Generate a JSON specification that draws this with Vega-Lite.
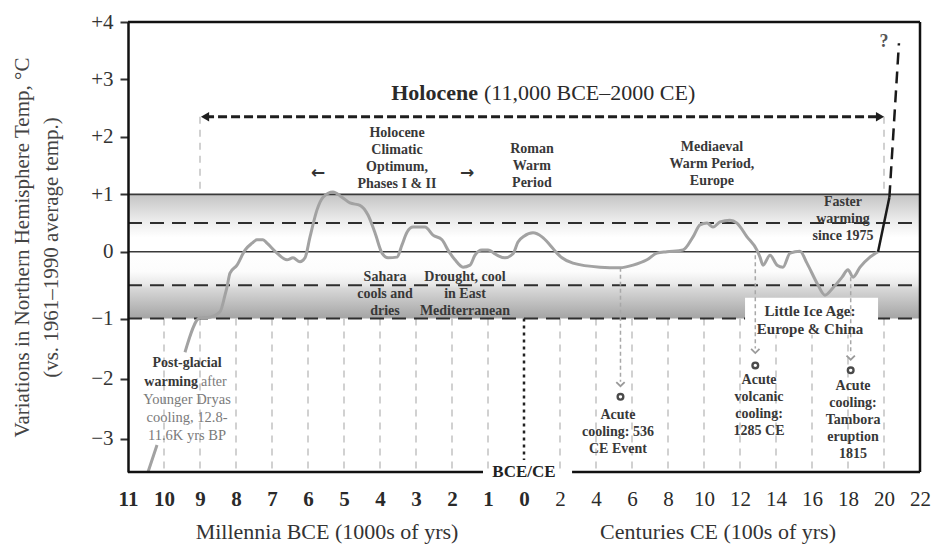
{
 "$schema": "https://vega.github.io/schema/vega-lite/v6.json",
 "width": 792,
 "height": 450,
 "autosize": {"type": "none"},
 "padding": {"left": 128, "top": 22, "right": 13, "bottom": 81},
 "background": "#ffffff",
 "config": {"view": {"stroke": null}, "font": "Liberation Serif"},
 "datasets": {
  "bands": [
   {"band": "upper", "x": -11000, "x2": 2200, "y": 1, "y2": 0},
   {"band": "lower", "x": -11000, "x2": 2200, "y": 0, "y2": -1}
  ],
  "gridLow": [
   {"x": -10000, "y": -1, "y2": -3.55}, {"x": -9000, "y": -1, "y2": -3.55}, {"x": -8000, "y": -1, "y2": -3.55},
   {"x": -7000, "y": -1, "y2": -3.55}, {"x": -6000, "y": -1, "y2": -3.55}, {"x": -5000, "y": -1, "y2": -3.55},
   {"x": -4000, "y": -1, "y2": -3.55}, {"x": -3000, "y": -1, "y2": -3.55}, {"x": -2000, "y": -1, "y2": -3.55},
   {"x": -1000, "y": -1, "y2": -3.55}, {"x": 200, "y": -1, "y2": -3.55}, {"x": 400, "y": -1, "y2": -3.55},
   {"x": 600, "y": -1, "y2": -3.55}, {"x": 800, "y": -1, "y2": -3.55}, {"x": 1000, "y": -1, "y2": -3.55},
   {"x": 1200, "y": -1, "y2": -3.55}, {"x": 1400, "y": -1, "y2": -3.55}, {"x": 1600, "y": -1, "y2": -3.55},
   {"x": 1800, "y": -1, "y2": -3.55}, {"x": 2000, "y": -1, "y2": -3.55},
   {"x": -9000, "y": 2.35, "y2": 1}, {"x": 2000, "y": 2.35, "y2": 1}
  ],
  "hSolid": [
   {"x": -11000, "x2": 2200, "y": 1},
   {"x": -11000, "x2": 2200, "y": 0}
  ],
  "hDashed": [
   {"x": -11000, "x2": 2200, "y": 0.5},
   {"x": -11000, "x2": 2200, "y": -0.5},
   {"x": -11000, "x2": 2200, "y": -1}
  ],
  "box": [{"x": 1228, "x2": 1967, "y": -0.69, "y2": -1.27}],
  "divider": [{"x": 0, "y": -1, "y2": -3.35}],
  "connectors": [
   {"x": 536, "y": -0.24, "y2": -2.05},
   {"x": 1285, "y": -0.05, "y2": -1.5},
   {"x": 1815, "y": -0.38, "y2": -1.6}
  ],
  "curve": [
   {"seg": "a", "x": -10444, "y": -3.55}, {"seg": "a", "x": -10194, "y": -3.1},
   {"seg": "b", "x": -9417, "y": -1.56}, {"seg": "b", "x": -9000, "y": -0.99},
   {"seg": "b", "x": -8722, "y": -0.98}, {"seg": "b", "x": -8444, "y": -0.9},
   {"seg": "b", "x": -8306, "y": -0.65}, {"seg": "b", "x": -8250, "y": -0.53},
   {"seg": "b", "x": -8167, "y": -0.32}, {"seg": "b", "x": -7972, "y": -0.2},
   {"seg": "b", "x": -7750, "y": 0.03}, {"seg": "b", "x": -7556, "y": 0.15},
   {"seg": "b", "x": -7417, "y": 0.21}, {"seg": "b", "x": -7250, "y": 0.21},
   {"seg": "b", "x": -7139, "y": 0.15}, {"seg": "b", "x": -6861, "y": -0.02},
   {"seg": "b", "x": -6583, "y": -0.12}, {"seg": "b", "x": -6417, "y": -0.09},
   {"seg": "b", "x": -6222, "y": -0.15}, {"seg": "b", "x": -6083, "y": -0.09},
   {"seg": "b", "x": -5944, "y": 0.26}, {"seg": "b", "x": -5750, "y": 0.73},
   {"seg": "b", "x": -5583, "y": 0.95}, {"seg": "b", "x": -5306, "y": 1.04},
   {"seg": "b", "x": -5056, "y": 0.95}, {"seg": "b", "x": -4833, "y": 0.85},
   {"seg": "b", "x": -4556, "y": 0.81}, {"seg": "b", "x": -4333, "y": 0.64},
   {"seg": "b", "x": -4139, "y": 0.33}, {"seg": "b", "x": -3944, "y": -0.02},
   {"seg": "b", "x": -3778, "y": -0.09}, {"seg": "b", "x": -3528, "y": -0.08},
   {"seg": "b", "x": -3389, "y": 0.12}, {"seg": "b", "x": -3250, "y": 0.34},
   {"seg": "b", "x": -3083, "y": 0.43}, {"seg": "b", "x": -2750, "y": 0.43},
   {"seg": "b", "x": -2528, "y": 0.29}, {"seg": "b", "x": -2278, "y": 0.21},
   {"seg": "b", "x": -2111, "y": 0.03}, {"seg": "b", "x": -1917, "y": -0.12},
   {"seg": "b", "x": -1694, "y": -0.23}, {"seg": "b", "x": -1500, "y": -0.2},
   {"seg": "b", "x": -1361, "y": -0.05}, {"seg": "b", "x": -1167, "y": 0.03},
   {"seg": "b", "x": -1000, "y": 0.03}, {"seg": "b", "x": -750, "y": -0.05},
   {"seg": "b", "x": -528, "y": -0.09}, {"seg": "b", "x": -306, "y": -0.03},
   {"seg": "b", "x": -167, "y": 0.17}, {"seg": "b", "x": 0, "y": 0.27},
   {"seg": "b", "x": 50, "y": 0.33}, {"seg": "b", "x": 100, "y": 0.26},
   {"seg": "b", "x": 144, "y": 0.12}, {"seg": "b", "x": 183, "y": -0.02},
   {"seg": "b", "x": 211, "y": -0.09}, {"seg": "b", "x": 272, "y": -0.17},
   {"seg": "b", "x": 422, "y": -0.23}, {"seg": "b", "x": 533, "y": -0.24},
   {"seg": "b", "x": 606, "y": -0.2}, {"seg": "b", "x": 683, "y": -0.12},
   {"seg": "b", "x": 739, "y": -0.02}, {"seg": "b", "x": 794, "y": 0.0},
   {"seg": "b", "x": 883, "y": 0.03}, {"seg": "b", "x": 939, "y": 0.26},
   {"seg": "b", "x": 978, "y": 0.47}, {"seg": "b", "x": 1017, "y": 0.5},
   {"seg": "b", "x": 1050, "y": 0.43}, {"seg": "b", "x": 1089, "y": 0.52},
   {"seg": "b", "x": 1144, "y": 0.55}, {"seg": "b", "x": 1183, "y": 0.5},
   {"seg": "b", "x": 1239, "y": 0.26}, {"seg": "b", "x": 1294, "y": 0.03},
   {"seg": "b", "x": 1311, "y": -0.08}, {"seg": "b", "x": 1328, "y": -0.2},
   {"seg": "b", "x": 1367, "y": -0.05}, {"seg": "b", "x": 1406, "y": -0.2},
   {"seg": "b", "x": 1439, "y": -0.23}, {"seg": "b", "x": 1478, "y": -0.02},
   {"seg": "b", "x": 1533, "y": 0.01}, {"seg": "b", "x": 1572, "y": -0.17},
   {"seg": "b", "x": 1628, "y": -0.47}, {"seg": "b", "x": 1672, "y": -0.65},
   {"seg": "b", "x": 1717, "y": -0.54}, {"seg": "b", "x": 1767, "y": -0.38},
   {"seg": "b", "x": 1800, "y": -0.27}, {"seg": "b", "x": 1828, "y": -0.38},
   {"seg": "b", "x": 1867, "y": -0.23}, {"seg": "b", "x": 1922, "y": -0.08},
   {"seg": "b", "x": 1967, "y": 0.0}
  ],
  "recent": [{"x": 1967, "y": 0.0}, {"x": 2030, "y": 0.95}],
  "projection": [{"x": 2030, "y": 0.95}, {"x": 2083, "y": 3.63}],
  "holoLine": [{"x": -8860, "x2": 1978, "y": 2.35}],
  "holoHeads": [{"dir": "left", "x": -8860, "y": 2.35}, {"dir": "right", "x": 1978, "y": 2.35}],
  "frameH": [
   {"x": -11000, "x2": 2200, "y": 4},
   {"x": -11000, "x2": -1139, "y": -3.55},
   {"x": 267, "x2": 2200, "y": -3.55}
  ],
  "frameV": [{"x": 2200, "y": -3.55, "y2": 4}],
  "chevrons": [{"x": 536, "y": -2.09}, {"x": 1285, "y": -1.54}, {"x": 1815, "y": -1.65}],
  "circles": [{"x": 536, "y": -2.3}, {"x": 1285, "y": -1.78}, {"x": 1815, "y": -1.86}],
  "notes": [
   {"x": -3528, "y": 2.19, "t": "Holocene\nClimatic\nOptimum,\nPhases I & II"},
   {"x": 44, "y": 1.91, "t": "Roman\nWarm\nPeriod"},
   {"x": 1044, "y": 1.95, "t": "Mediaeval\nWarm Period,\nEurope"},
   {"x": 1772, "y": 0.99, "t": "Faster\nwarming\nsince 1975"},
   {"x": -3861, "y": -0.27, "t": "Sahara\ncools and\ndries"},
   {"x": -1639, "y": -0.27, "t": "Drought, cool\nin East\nMediterranean"},
   {"x": 522, "y": -2.49, "t": "Acute\ncooling: 536\nCE Event"},
   {"x": 1306, "y": -1.91, "t": "Acute\nvolcanic\ncooling:\n1285 CE"},
   {"x": 1828, "y": -2.0, "t": "Acute\ncooling:\nTambora\neruption\n1815"},
   {"x": -9361, "y": -1.62, "t": "Post-glacial"}
  ],
  "boldRight": [{"x": -9056, "y": -1.94, "t": "warming"}],
  "grayLeft": [{"x": -8972, "y": -1.94, "t": "after"}],
  "grayCenter": [{"x": -9361, "y": -2.24, "t": "Younger Dryas\ncooling, 12.8-\n11.6K yrs BP"}],
  "lia": [{"x": 1589, "y": -0.78, "t": "Little Ice Age:\nEurope & China"}],
  "holoBold": [{"x": -1278, "y": 2.76, "t": "Holocene"}],
  "holoReg": [{"x": -1111, "y": 2.76, "t": "(11,000 BCE–2000 CE)"}],
  "arrows": [{"x": -5722, "y": 1.38, "t": "←"}, {"x": -1583, "y": 1.38, "t": "→"}],
  "question": [{"x": 2000, "y": 3.65, "t": "?"}],
  "bce": [{"x": 0, "y": -3.55, "t": "BCE/CE"}],
  "xtitles": [
   {"x": -5472, "y": -4.55, "t": "Millennia BCE (1000s of yrs)"},
   {"x": 1078, "y": -4.55, "t": "Centuries CE (100s of yrs)"}
  ]
 },
 "encoding": {
  "x": {
   "field": "x", "type": "quantitative",
   "scale": {"domain": [-11000, 0, 2200], "range": [0, 396, 792], "nice": false, "zero": false},
   "axis": {
    "values": [-11000, -10000, -9000, -8000, -7000, -6000, -5000, -4000, -3000, -2000, -1000, 0, 200, 400, 600, 800, 1000, 1200, 1400, 1600, 1800, 2000, 2200],
    "labelExpr": "datum.value <= 0 ? format(-datum.value/1000, 'd') : format(datum.value/100, 'd')",
    "domain": false, "ticks": false, "tickSize": 0, "grid": false, "title": null,
    "labelFont": "Liberation Serif", "labelFontSize": 21, "labelColor": "#2a2a2a",
    "labelFontWeight": {"condition": {"test": "datum.value <= 0", "value": "bold"}, "value": "normal"},
    "labelPadding": 16, "labelOverlap": false, "labelFlush": false, "zindex": 1
   }
  },
  "y": {
   "field": "y", "type": "quantitative",
   "scale": {"domain": [-3.55, -1, 0, 4], "range": [450, 296.5, 229.8, 0], "nice": false, "zero": false},
   "axis": {
    "values": [-3, -2, -1, 0, 1, 2, 3, 4],
    "labelExpr": "datum.value > 0 ? '+' + datum.value : (datum.value < 0 ? '−' + (-datum.value) : '0')",
    "domain": true, "domainColor": "#111111", "domainWidth": 2.5,
    "ticks": true, "tickSize": 8, "tickColor": "#333333", "tickWidth": 2,
    "grid": false, "labelFlush": false, "labelOverlap": false,
    "labelFont": "Liberation Serif", "labelFontSize": 21, "labelColor": "#333333", "labelPadding": 7,
    "title": ["Variations in Northern Hemisphere Temp, °C", "(vs. 1961–1990 average temp.)"],
    "titleFont": "Liberation Serif", "titleFontSize": 21, "titleFontWeight": "normal", "titleColor": "#444444",
    "titleLineHeight": 29, "titleAngle": -90, "titleX": -106, "titleY": 225,
    "titleAlign": "center", "titleBaseline": "middle", "zindex": 1
   }
  }
 },
 "layer": [
  {
   "data": {"name": "bands"},
   "transform": [{"filter": "datum.band == 'upper'"}],
   "mark": {"type": "rect", "fill": {"gradient": "linear", "x1": 0, "y1": 0, "x2": 0, "y2": 1,
     "stops": [{"offset": 0, "color": "#c4c4c4"}, {"offset": 0.45, "color": "#ebebeb"}, {"offset": 0.75, "color": "#ffffff"}, {"offset": 1, "color": "#ffffff"}]}},
   "encoding": {"x2": {"field": "x2"}, "y2": {"field": "y2"}}
  },
  {
   "data": {"name": "bands"},
   "transform": [{"filter": "datum.band == 'lower'"}],
   "mark": {"type": "rect", "fill": {"gradient": "linear", "x1": 0, "y1": 0, "x2": 0, "y2": 1,
     "stops": [{"offset": 0, "color": "#ffffff"}, {"offset": 0.3, "color": "#fcfcfc"}, {"offset": 0.5, "color": "#e6e6e6"}, {"offset": 0.55, "color": "#d8d8d8"}, {"offset": 1, "color": "#a4a4a4"}]}},
   "encoding": {"x2": {"field": "x2"}, "y2": {"field": "y2"}}
  },
  {
   "data": {"name": "gridLow"},
   "mark": {"type": "rule", "color": "#c2c2c2", "strokeWidth": 1.5, "strokeDash": [7, 6]},
   "encoding": {"y2": {"field": "y2"}}
  },
  {
   "data": {"name": "hSolid"},
   "mark": {"type": "rule", "color": "#3a3a3a", "strokeWidth": 1.6},
   "encoding": {"x2": {"field": "x2"}}
  },
  {
   "data": {"name": "hDashed"},
   "mark": {"type": "rule", "color": "#2e2e2e", "strokeWidth": 2, "strokeDash": [14, 8]},
   "encoding": {"x2": {"field": "x2"}}
  },
  {
   "data": {"name": "box"},
   "mark": {"type": "rect", "fill": "#ffffff"},
   "encoding": {"x2": {"field": "x2"}, "y2": {"field": "y2"}}
  },
  {
   "data": {"name": "divider"},
   "mark": {"type": "rule", "color": "#222222", "strokeWidth": 2.5, "strokeDash": [3, 4]},
   "encoding": {"y2": {"field": "y2"}}
  },
  {
   "data": {"name": "connectors"},
   "mark": {"type": "rule", "color": "#a8a8a8", "strokeWidth": 1.5, "strokeDash": [4, 3]},
   "encoding": {"y2": {"field": "y2"}}
  },
  {
   "data": {"name": "curve"},
   "mark": {"type": "line", "color": "#a2a2a2", "strokeWidth": 3, "interpolate": "monotone"},
   "encoding": {"detail": {"field": "seg"}}
  },
  {
   "data": {"name": "recent"},
   "mark": {"type": "line", "color": "#1a1a1a", "strokeWidth": 2.5},
   "encoding": {}
  },
  {
   "data": {"name": "projection"},
   "mark": {"type": "line", "color": "#1a1a1a", "strokeWidth": 2.5, "strokeDash": [12, 7]},
   "encoding": {}
  },
  {
   "data": {"name": "holoLine"},
   "mark": {"type": "rule", "color": "#1e1e1e", "strokeWidth": 3, "strokeDash": [9, 4]},
   "encoding": {"x2": {"field": "x2"}}
  },
  {
   "data": {"name": "holoHeads"},
   "mark": {"type": "point", "filled": true, "color": "#1e1e1e", "size": 90, "opacity": 1},
   "encoding": {"shape": {"field": "dir", "type": "nominal", "scale": {"domain": ["left", "right"], "range": ["triangle-left", "triangle-right"]}, "legend": null}}
  },
  {
   "data": {"name": "frameH"},
   "mark": {"type": "rule", "color": "#111111", "strokeWidth": 2.5},
   "encoding": {"x2": {"field": "x2"}}
  },
  {
   "data": {"name": "frameV"},
   "mark": {"type": "rule", "color": "#111111", "strokeWidth": 2.5},
   "encoding": {"y2": {"field": "y2"}}
  },
  {
   "data": {"name": "chevrons"},
   "mark": {"type": "point", "shape": "M-1,-0.5L0,0.5L1,-0.5", "filled": false, "stroke": "#9a9a9a", "strokeWidth": 1.8, "size": 70, "opacity": 1},
   "encoding": {}
  },
  {
   "data": {"name": "circles"},
   "mark": {"type": "point", "shape": "circle", "filled": false, "stroke": "#4a4a4a", "strokeWidth": 2.4, "size": 32, "opacity": 1},
   "encoding": {}
  },
  {
   "data": {"name": "notes"},
   "mark": {"type": "text", "font": "Liberation Serif", "fontSize": 14, "fontWeight": "bold", "color": "#383838", "align": "center", "baseline": "top", "lineBreak": "\n", "lineHeight": 17},
   "encoding": {"text": {"field": "t"}}
  },
  {
   "data": {"name": "boldRight"},
   "mark": {"type": "text", "font": "Liberation Serif", "fontSize": 14, "fontWeight": "bold", "color": "#383838", "align": "right", "baseline": "top"},
   "encoding": {"text": {"field": "t"}}
  },
  {
   "data": {"name": "grayLeft"},
   "mark": {"type": "text", "font": "Liberation Serif", "fontSize": 14, "color": "#7a7a7a", "align": "left", "baseline": "top"},
   "encoding": {"text": {"field": "t"}}
  },
  {
   "data": {"name": "grayCenter"},
   "mark": {"type": "text", "font": "Liberation Serif", "fontSize": 14.5, "color": "#7a7a7a", "align": "center", "baseline": "top", "lineBreak": "\n", "lineHeight": 18},
   "encoding": {"text": {"field": "t"}}
  },
  {
   "data": {"name": "lia"},
   "mark": {"type": "text", "font": "Liberation Serif", "fontSize": 15, "fontWeight": "bold", "color": "#383838", "align": "center", "baseline": "top", "lineBreak": "\n", "lineHeight": 18},
   "encoding": {"text": {"field": "t"}}
  },
  {
   "data": {"name": "holoBold"},
   "mark": {"type": "text", "font": "Liberation Serif", "fontSize": 22, "fontWeight": "bold", "color": "#2a2a2a", "align": "right", "baseline": "middle"},
   "encoding": {"text": {"field": "t"}}
  },
  {
   "data": {"name": "holoReg"},
   "mark": {"type": "text", "font": "Liberation Serif", "fontSize": 22, "color": "#2a2a2a", "align": "left", "baseline": "middle"},
   "encoding": {"text": {"field": "t"}}
  },
  {
   "data": {"name": "arrows"},
   "mark": {"type": "text", "font": "DejaVu Sans", "fontSize": 17, "fontWeight": "bold", "color": "#333333", "align": "center", "baseline": "middle"},
   "encoding": {"text": {"field": "t"}}
  },
  {
   "data": {"name": "question"},
   "mark": {"type": "text", "font": "Liberation Serif", "fontSize": 18, "fontWeight": "bold", "color": "#555555", "align": "center", "baseline": "middle"},
   "encoding": {"text": {"field": "t"}}
  },
  {
   "data": {"name": "bce"},
   "mark": {"type": "text", "font": "Liberation Serif", "fontSize": 17, "fontWeight": "bold", "color": "#222222", "align": "center", "baseline": "middle"},
   "encoding": {"text": {"field": "t"}}
  },
  {
   "data": {"name": "xtitles"},
   "mark": {"type": "text", "font": "Liberation Serif", "fontSize": 22, "color": "#333333", "align": "center", "baseline": "middle"},
   "encoding": {"text": {"field": "t"}}
  }
 ]
}
